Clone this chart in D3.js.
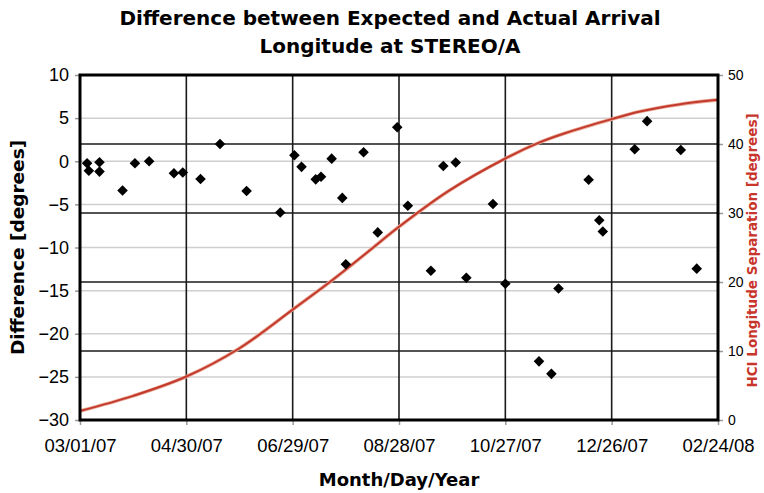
<!DOCTYPE html>
<html lang="en">
<head>
<meta charset="utf-8">
<title>STEREO/A arrival longitude</title>
<script src="https://d3js.org/d3.v7.min.js"></script>
<style>
  body { margin: 0; background: #fff; }
  svg { display: block; font-family: "DejaVu Sans", Verdana, sans-serif; }
  .title { font-weight: bold; font-size: 20px; text-anchor: middle; }
  .tick text { fill: #000; }
</style>
</head>
<body>
<svg width="764" height="493"></svg>
<script>
// difference points (date, degrees)
var pointDates = ["2007-03-05","2007-03-06","2007-03-12","2007-03-12","2007-03-25","2007-04-01",
  "2007-04-09","2007-04-23","2007-04-28","2007-05-08","2007-05-19","2007-06-03","2007-06-22",
  "2007-06-30","2007-07-04","2007-07-12","2007-07-15","2007-07-21","2007-07-27","2007-07-29",
  "2007-08-08","2007-08-16","2007-08-27","2007-09-02","2007-09-15","2007-09-22","2007-09-29",
  "2007-10-05","2007-10-20","2007-10-27","2007-11-15","2007-11-22","2007-11-26","2007-12-13",
  "2007-12-19","2007-12-21","2008-01-08","2008-01-15","2008-02-03","2008-02-12"];
var pointDiffs = [-0.24,-1.1,-0.12,-1.2,-3.4,-0.24,
  0.0,-1.4,-1.3,-2.05,2.0,-3.45,-5.95,
  0.7,-0.65,-2.1,-1.8,0.3,-4.25,-11.95,
  1.05,-8.25,3.95,-5.15,-12.7,-0.55,-0.15,
  -13.5,-4.95,-14.2,-23.2,-24.65,-14.75,-2.15,
  -6.85,-8.15,1.4,4.65,1.3,-12.45];

// HCI longitude separation curve (right axis)
var sepDates = ["2007-03-01","2007-03-31","2007-04-30","2007-05-30","2007-06-29","2007-07-20",
  "2007-07-29","2007-08-13","2007-08-28","2007-09-25","2007-10-27","2007-11-16","2007-11-30",
  "2007-12-26","2008-01-11","2008-02-01","2008-02-24"];
var sepValues = [1.3,3.5,6.3,10.4,16.0,20.0,21.8,24.9,28.0,33.2,37.9,40.3,41.6,43.6,44.7,45.7,46.4];

var xTickDates = ["2007-03-01","2007-04-30","2007-06-29","2007-08-28","2007-10-27","2007-12-26","2008-02-24"];
var leftTicks = [10,5,0,-5,-10,-15,-20,-25,-30];
var rightTicks = [0,10,20,30,40,50];

var parse = d3.utcParse("%Y-%m-%d");
var svg = d3.select("svg");
var margin = {top: 75, right: 46, bottom: 73, left: 80},
    width = 764 - margin.left - margin.right,
    height = 493 - margin.top - margin.bottom;

var x = d3.scaleUtc()
    .domain([parse(xTickDates[0]), parse(xTickDates[xTickDates.length - 1])])
    .range([0, width]);
var y = d3.scaleLinear().domain([-30, 10]).range([height, 0]);
var y2 = d3.scaleLinear().domain([0, 50]).range([height, 0]);

var g = svg.append("g").attr("transform", "translate(" + margin.left + "," + margin.top + ")");

// light grid from left axis
g.selectAll(".gl").data(leftTicks).enter().append("line")
    .attr("x1", 0).attr("x2", width)
    .attr("y1", function(d) { return y(d); }).attr("y2", function(d) { return y(d); })
    .attr("stroke", "#cfcfcf").attr("stroke-width", 1.5);

// dark grid from right axis
g.selectAll(".gd").data(rightTicks.slice(1, -1)).enter().append("line")
    .attr("x1", 0).attr("x2", width)
    .attr("y1", function(d) { return y2(d); }).attr("y2", function(d) { return y2(d); })
    .attr("stroke", "#1a1a1a").attr("stroke-width", 1.6);

// vertical grid
g.selectAll(".gv").data(xTickDates.slice(1, -1)).enter().append("line")
    .attr("y1", 0).attr("y2", height)
    .attr("x1", function(d) { return x(parse(d)); }).attr("x2", function(d) { return x(parse(d)); })
    .attr("stroke", "#1a1a1a").attr("stroke-width", 1.6);

// axes
var xAxis = g.append("g").attr("transform", "translate(0," + height + ")")
    .call(d3.axisBottom(x).tickValues(xTickDates.map(parse))
      .tickFormat(d3.utcFormat("%m/%d/%y")).tickSize(5).tickPadding(14));
xAxis.selectAll("text").style("font-size", "18.5px");

var yAxis = g.append("g")
    .call(d3.axisLeft(y).tickValues(leftTicks).tickSize(5).tickPadding(6));
yAxis.selectAll("text").style("font-size", "18px");

var yAxis2 = g.append("g").attr("transform", "translate(" + width + ",0)")
    .call(d3.axisRight(y2).tickValues(rightTicks).tickSize(5).tickPadding(5));
yAxis2.selectAll("text").style("font-size", "14px");

[xAxis, yAxis, yAxis2].forEach(function(a) {
  a.select(".domain").remove();
  a.selectAll(".tick line").attr("stroke", "#999").attr("stroke-width", 1.5);
});

// separation curve
var sep = sepDates.map(function(d, i) { return {date: parse(d), value: sepValues[i]}; });
var sepLine = d3.line().curve(d3.curveCatmullRom.alpha(0.5))
    .x(function(d) { return x(d.date); }).y(function(d) { return y2(d.value); });
g.append("path").datum(sep)
    .attr("fill", "none").attr("stroke", "#eaa898").attr("stroke-width", 3.6)
    .attr("d", sepLine);
g.append("path").datum(sep)
    .attr("fill", "none").attr("stroke", "#c23a2c").attr("stroke-width", 2)
    .attr("d", sepLine);

// diamonds
var pts = pointDates.map(function(d, i) { return {date: parse(d), value: pointDiffs[i]}; });
var diamond = d3.symbol().type(d3.symbolSquare).size(56);
g.selectAll(".pt").data(pts).enter().append("path")
    .attr("d", diamond)
    .attr("fill", "#000")
    .attr("transform", function(d) { return "translate(" + x(d.date) + "," + y(d.value) + ") rotate(45)"; });

// frame
g.append("rect").attr("width", width).attr("height", height)
    .attr("fill", "none").attr("stroke", "#000").attr("stroke-width", 3);

// titles
svg.append("text").attr("class", "title").attr("x", 390).attr("y", 25).text("Difference between Expected and Actual Arrival");
svg.append("text").attr("class", "title").attr("x", 390).attr("y", 53).text("Longitude at STEREO/A");

svg.append("text").attr("x", margin.left + width / 2).attr("y", 486)
    .attr("text-anchor", "middle").style("font-weight", "bold").style("font-size", "18px")
    .text("Month/Day/Year");

svg.append("text").attr("transform", "translate(24," + (margin.top + height / 2) + ") rotate(-90)")
    .attr("text-anchor", "middle").style("font-weight", "bold").style("font-size", "18.5px")
    .text("Difference [degrees]");

svg.append("text").attr("transform", "translate(757," + (margin.top + height / 2 + 3) + ") rotate(-90)")
    .attr("text-anchor", "middle").style("font-weight", "bold").style("font-size", "13.5px")
    .attr("fill", "#c8352a")
    .text("HCI Longitude Separation [degrees]");
</script>
</body>
</html>
